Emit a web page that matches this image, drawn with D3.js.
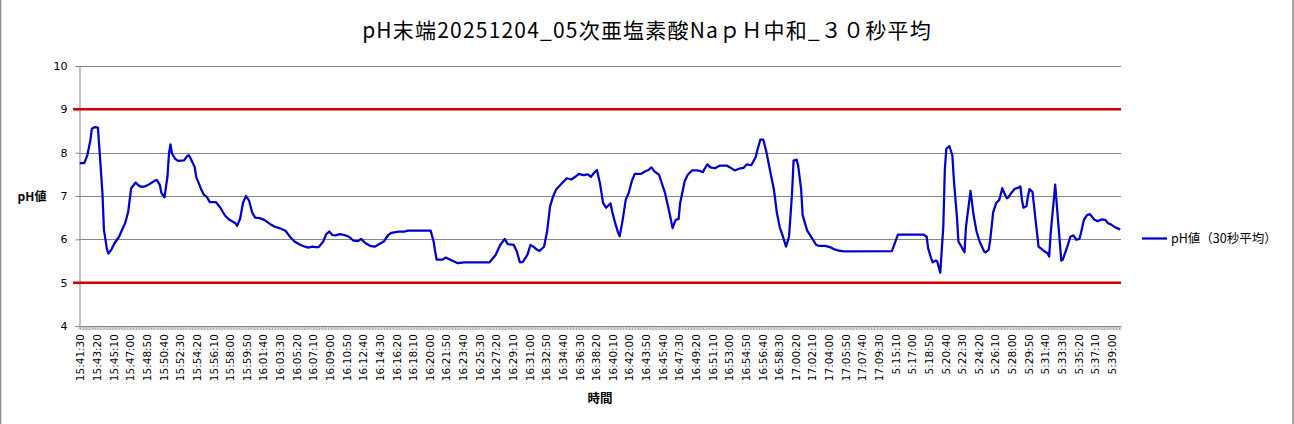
<!DOCTYPE html>
<html>
<head>
<meta charset="utf-8">
<script src="https://cdn.jsdelivr.net/npm/d3@7"></script>
<style>
  html, body { margin: 0; padding: 0; background: #fff; }
  svg { display: block; }
</style>
</head>
<body>
<svg id="chart" width="1294" height="424"></svg>
<script>
// ---------- data ----------
const chartTitle = "pH末端20251204_05次亜塩素酸NaｐＨ中和_３０秒平均";
const yAxisTitle = "pH値";
const xAxisTitle = "時間";
const seriesName = "pH値（30秒平均）";

const categoryCount = 689;      // number of 10-second samples on the category axis
const labelEvery = 11;          // one tick label every 11 categories

const tickLabels = [
  "15:41:30","15:43:20","15:45:10","15:47:00","15:48:50","15:50:40","15:52:30","15:54:20",
  "15:56:10","15:58:00","15:59:50","16:01:40","16:03:30","16:05:20","16:07:10","16:09:00",
  "16:10:50","16:12:40","16:14:30","16:16:20","16:18:10","16:20:00","16:21:50","16:23:40",
  "16:25:30","16:27:20","16:29:10","16:31:00","16:32:50","16:34:40","16:36:30","16:38:20",
  "16:40:10","16:42:00","16:43:50","16:45:40","16:47:30","16:49:20","16:51:10","16:53:00",
  "16:54:50","16:56:40","16:58:30","17:00:20","17:02:10","17:04:00","17:05:50","17:07:40",
  "17:09:30","5:15:10","5:17:00","5:18:50","5:20:40","5:22:30","5:24:20","5:26:10",
  "5:28:00","5:29:50","5:31:40","5:33:30","5:35:20","5:37:10","5:39:00"
];

const yTicks = [4, 5, 6, 7, 8, 9, 10];
const gridValues = [6, 7, 8, 10];
const limitValues = [9, 5];

// category index of each read sample
const sampleIdx = [
  0,3,5,7,8,10,12,13,15,16,18,19,21,23,26,28,30,32,34,37,39,41,43,46,50,51,53,54,56,58,59,60,61,63,65,69,71,72,73,76,77,80,82,84,86,90,93,96,99,103,104,106,108,110,112,114,116,119,122,126,129,132,136,139,142,146,149,151,154,156,158,161,163,165,167,169,172,175,178,181,184,186,189,192,195,197,201,204,206,211,215,217,232,234,235,236,240,242,246,250,254,271,275,278,281,283,287,289,291,293,296,298,300,302,304,307,309,311,313,315,319,322,325,328,330,333,336,338,340,342,344,346,348,351,352,354,356,357,359,361,363,365,367,371,374,376,378,380,383,385,387,390,392,394,396,397,400,402,405,408,410,412,413,415,417,420,423,428,430,433,436,439,441,444,447,448,450,452,454,457,459,461,463,465,467,469,471,472,474,475,477,478,481,484,487,489,493,496,499,502,505,537,539,541,558,560,561,563,564,566,567,569,571,572,573,575,577,578,580,581,583,585,586,588,589,590,591,593,595,598,599,601,602,604,606,608,610,611,613,614,616,618,621,622,623,624,626,627,628,630,631,632,634,638,640,641,642,645,647,649,650,653,655,657,659,661,662,664,666,668,671,673,676,678,680,682,685,688
];
// pH value (30 s average) at each sample
const phValues = [
  7.76,7.76,7.94,8.28,8.55,8.59,8.58,8.09,7.07,6.22,5.77,5.67,5.77,5.91,6.06,6.22,6.37,6.63,7.18,7.31,7.24,7.21,7.22,7.27,7.36,7.37,7.25,7.07,6.97,7.45,7.98,8.19,7.98,7.86,7.81,7.82,7.92,7.94,7.89,7.67,7.44,7.18,7.03,6.98,6.86,6.86,6.73,6.55,6.45,6.37,6.31,6.47,6.85,7.0,6.89,6.62,6.5,6.49,6.45,6.35,6.29,6.26,6.2,6.06,5.95,5.87,5.83,5.81,5.83,5.82,5.82,5.95,6.12,6.18,6.1,6.09,6.12,6.1,6.06,5.97,5.96,6.01,5.91,5.85,5.83,5.87,5.95,6.1,6.15,6.18,6.18,6.2,6.2,5.95,5.72,5.53,5.53,5.58,5.51,5.45,5.47,5.47,5.64,5.87,6.01,5.89,5.87,5.72,5.47,5.48,5.64,5.87,5.83,5.77,5.73,5.83,6.18,6.76,6.99,7.15,7.3,7.41,7.38,7.45,7.51,7.48,7.5,7.44,7.53,7.6,7.29,6.84,6.73,6.83,6.65,6.38,6.15,6.07,6.45,6.91,7.07,7.34,7.51,7.51,7.57,7.6,7.66,7.57,7.49,7.28,7.07,6.6,6.26,6.45,6.47,6.84,7.34,7.49,7.59,7.59,7.58,7.55,7.62,7.73,7.66,7.64,7.7,7.7,7.66,7.59,7.63,7.65,7.73,7.71,7.9,8.05,8.3,8.3,8.02,7.49,7.15,6.6,6.26,6.06,5.83,6.06,7.07,7.82,7.84,7.71,7.15,6.56,6.2,6.04,5.87,5.85,5.85,5.82,5.77,5.74,5.72,5.73,5.92,6.11,6.11,6.06,5.79,5.56,5.47,5.51,5.49,5.23,6.29,7.6,8.09,8.15,7.94,7.37,6.52,5.95,5.83,5.7,6.29,6.84,7.12,6.84,6.56,6.18,5.95,5.72,5.7,5.76,5.98,6.63,6.84,6.91,7.18,7.09,6.95,6.97,7.07,7.16,7.2,7.22,6.91,6.73,6.77,7.0,7.16,7.09,6.77,6.45,5.83,5.72,5.68,5.6,6.14,7.26,6.38,5.51,5.53,5.83,6.06,6.09,5.99,6.01,6.14,6.45,6.56,6.58,6.45,6.42,6.46,6.45,6.37,6.34,6.27,6.23
];

// ---------- drawing ----------
const W = 1294, H = 424;
const plot = { left: 79, right: 1121, top: 66, bottom: 326 };
const svg = d3.select("#chart");

svg.append("rect").attr("x", 0).attr("y", 0).attr("width", W).attr("height", H).attr("fill", "#fff");
// chart frame (left/right edges visible)
svg.append("rect").attr("x", 0.5).attr("y", -2).attr("width", 1292.5).attr("height", H + 4)
  .attr("fill", "none").attr("stroke", "#8c8c8c").attr("stroke-width", 1.5);

const x = d3.scaleLinear().domain([-0.5, categoryCount - 0.5]).range([plot.left, plot.right]);
const y = d3.scaleLinear().domain([4, 10]).range([plot.bottom, plot.top]);

// gridlines
svg.append("g").selectAll("line").data(gridValues).join("line")
  .attr("x1", plot.left).attr("x2", plot.right)
  .attr("y1", d => Math.round(y(d)) + 0.5).attr("y2", d => Math.round(y(d)) + 0.5)
  .attr("stroke", "#868686").attr("stroke-width", 1);

// y axis
const yAxis = d3.axisLeft(y).tickValues(yTicks).tickSize(4).tickPadding(8).tickFormat(d3.format("d"));
const gy = svg.append("g").attr("transform", `translate(${plot.left + 0.5},0)`).call(yAxis);
gy.select(".domain").attr("stroke", "#868686");
gy.selectAll(".tick line").attr("stroke", "#868686");
gy.selectAll(".tick text").attr("font-family", "'DejaVu Sans', sans-serif").attr("font-size", 11).attr("fill", "#000");

// x axis: tick every category boundary
const boundaries = d3.range(categoryCount + 1).map(i => i - 0.5);
svg.append("g").selectAll("line").data(boundaries).join("line")
  .attr("x1", d => x(d)).attr("x2", d => x(d))
  .attr("y1", plot.bottom).attr("y2", plot.bottom + 4)
  .attr("stroke", "#9a9a9a").attr("stroke-width", 0.8);
svg.append("line").attr("x1", plot.left).attr("x2", plot.right)
  .attr("y1", plot.bottom + 0.5).attr("y2", plot.bottom + 0.5)
  .attr("stroke", "#868686").attr("stroke-width", 1);

// x tick labels
svg.append("g").selectAll("text").data(tickLabels).join("text")
  .attr("transform", (d, i) => `translate(${x(i * labelEvery) + 1},334) rotate(-90)`)
  .attr("text-anchor", "end").attr("dy", "0.35em")
  .attr("font-family", "'DejaVu Sans', sans-serif").attr("font-size", 10.5).attr("fill", "#000")
  .text(d => d);

// limit lines
svg.append("g").selectAll("line").data(limitValues).join("line")
  .attr("x1", plot.left - 6).attr("x2", plot.right)
  .attr("y1", d => y(d)).attr("y2", d => y(d))
  .attr("stroke", "#d00000").attr("stroke-width", 2.5);

// series line
const pts = sampleIdx.map((c, i) => [c, phValues[i]]);
svg.append("path").datum(pts)
  .attr("fill", "none").attr("stroke", "#0000cc").attr("stroke-width", 2.25)
  .attr("stroke-linejoin", "round")
  .attr("d", d3.line().x(d => x(d[0])).y(d => y(d[1])));

// titles
svg.append("text").attr("x", 647).attr("y", 38).attr("text-anchor", "middle")
  .attr("font-family", "'Noto Sans CJK JP', sans-serif").attr("font-size", 21)
  .attr("letter-spacing", 1.2).attr("fill", "#000")
  .text(chartTitle);
svg.append("text").attr("x", 32).attr("y", 201).attr("text-anchor", "middle")
  .attr("font-family", "'Noto Sans CJK JP', sans-serif").attr("font-weight", "bold").attr("font-size", 12)
  .text(yAxisTitle);
svg.append("text").attr("x", 600).attr("y", 403).attr("text-anchor", "middle")
  .attr("font-family", "'Noto Sans CJK JP', sans-serif").attr("font-weight", "bold").attr("font-size", 12.5)
  .text(xAxisTitle);

// legend
svg.append("line").attr("x1", 1142).attr("x2", 1167).attr("y1", 238.5).attr("y2", 238.5)
  .attr("stroke", "#0000cc").attr("stroke-width", 2.25);
svg.append("text").attr("x", 1171).attr("y", 243)
  .attr("font-family", "'Noto Sans CJK JP', sans-serif").attr("font-size", 12.5).attr("fill", "#000")
  .text(seriesName);
</script>
</body>
</html>
